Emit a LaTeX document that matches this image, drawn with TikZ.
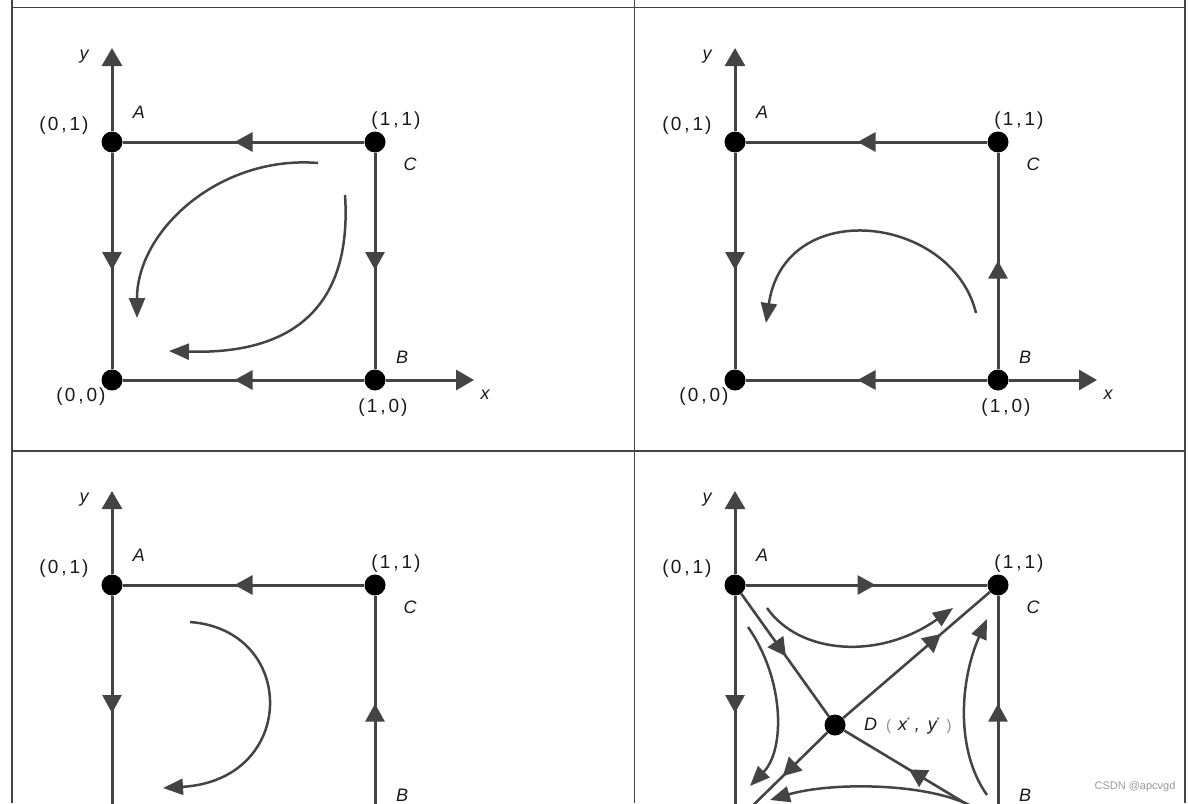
\documentclass[tikz,border=0pt]{standalone}
\usepackage{fontspec}
\setmainfont{Liberation Sans}
\usetikzlibrary{arrows.meta,decorations.markings}
\definecolor{lc}{RGB}{68,68,68}
\definecolor{tc}{RGB}{25,25,25}
\newcommand\crd[2]{(\kern2pt#1\kern3pt,\kern3pt#2\kern2pt)}
\tikzset{
  frame/.style={draw=lc,line width=1.5pt},
  edge/.style={draw=lc,line width=3pt},
  diag/.style={draw=lc,line width=2.6pt},
  axis/.style={draw=lc,line width=3pt,-{Triangle[length=18pt,width=20pt]}},
  flow/.style={draw=lc,line width=2.5pt,-{Triangle[length=20pt,width=16pt]}},
  midarr/.style={postaction={decorate},decoration={markings,
     mark=at position #1 with {\arrow[xshift=9pt]{Triangle[length=18pt,width=19pt]}}}},
  dot/.style={circle,fill=black,inner sep=0pt,minimum size=21pt},
  coordlbl/.style={text=tc,font=\fontsize{19}{19}\selectfont,inner sep=0pt},
  letlbl/.style={text=tc,font=\fontsize{18}{18}\selectfont\itshape,inner sep=0pt},
}
% #1 = suffix; draws the corner dots and the labels of one panel
\newcommand\corners[1]{%
  \node[dot] (O#1) at (112,380) {};
  \node[dot] (A#1) at (112,142) {};
  \node[dot] (C#1) at (375,142) {};
  \node[dot] (B#1) at (375,380) {};
  \coordinate (yt#1) at (112,48);
  \coordinate (xt#1) at (474,380);
  \node[letlbl] (ly#1) at (84,57) {y};
  \node[letlbl] (lA#1) at (139,112) {A};
  \node[coordlbl] (l01#1) at (64,126) {\crd{0}{1}};
  \node[coordlbl] (l11#1) at (396,121) {\crd{1}{1}};
  \node[letlbl] (lC#1) at (410,164) {C};
}
\newcommand\bottomlabels[1]{%
  \node[letlbl] (lB#1) at (402,357) {B};
  \node[coordlbl] (l00#1) at (81,397) {\crd{0}{0}};
  \node[coordlbl] (l10#1) at (383,408) {\crd{1}{0}};
  \node[letlbl] (lx#1) at (485,395) {x};
}
\begin{document}
\begin{tikzpicture}[x=1pt,y=-1pt]
\useasboundingbox (0,0) rectangle (1188,803);
\clip (0,0) rectangle (1188,803);
% frame
\draw[frame] (12,7.5) -- (1185,7.5);
\draw[frame] (12,451) -- (1185,451);
\draw[frame] (12,0) -- (12,803);
\draw[frame] (634.5,0) -- (634.5,803);
\draw[frame] (1185,0) -- (1185,803);

% ---------- panel 1 ----------
\begin{scope}
  \corners{1}\bottomlabels{1}
  \draw[axis] (A1) -- (yt1);
  \draw[axis] (B1) -- (xt1);
  \draw[edge,midarr=0.5] (C1) -- (A1);
  \draw[edge,midarr=0.5] (A1) -- (O1);
  \draw[edge,midarr=0.5] (C1) -- (B1);
  \draw[edge,midarr=0.5] (B1) -- (O1);
  \coordinate (p1s) at (318,163);
  \coordinate (p1e) at (137,318);
  \coordinate (p2s) at (345,195);
  \coordinate (p2e) at (169,351);
  \draw[flow] (p1s) .. controls (220,155) and (137,230) .. (p1e);
  \draw[flow] (p2s) .. controls (352,300) and (300,355) .. (p2e);
\end{scope}

% ---------- panel 2 ----------
\begin{scope}[shift={(623,0)}]
  \corners{2}\bottomlabels{2}
  \draw[axis] (A2) -- (yt2);
  \draw[axis] (B2) -- (xt2);
  \draw[edge,midarr=0.5] (C2) -- (A2);
  \draw[edge,midarr=0.5] (A2) -- (O2);
  \draw[edge,midarr=0.46] (B2) -- (C2);
  \draw[edge,midarr=0.5] (B2) -- (O2);
  \coordinate (q1s) at (353,313);
  \coordinate (q1e) at (143,323);
  \draw[flow] (q1s) .. controls (329,215) and (162,195) .. (q1e);
\end{scope}

% ---------- panel 3 ----------
\begin{scope}[shift={(0,443)}]
  \corners{3}
  \node[letlbl] (lB3) at (402,352) {B};
  \draw[axis] (A3) -- (yt3);
  \draw[edge,midarr=0.5] (C3) -- (A3);
  \draw[edge,midarr=0.5] (A3) -- (O3);
  \draw[edge,midarr=0.46] (B3) -- (C3);
  \coordinate (r1s) at (190,179);
  \coordinate (r1e) at (163,345);
  \draw[flow] (r1s) .. controls (298,187) and (298,337) .. (r1e);
\end{scope}

% ---------- panel 4 ----------
\begin{scope}[shift={(623,443)}]
  \corners{4}
  \node[letlbl] (lB4) at (402,352) {B};
  \node[dot] (D4) at (212,282) {};
  \node[letlbl,anchor=west] (lD4) at (241,283) {D\kern9pt{\color{black!45}\fontsize{15}{15}\selectfont\upshape(}\kern7pt x\raisebox{8pt}{\fontsize{7}{7}\selectfont\upshape *}\kern5pt,\kern8pt y\raisebox{8pt}{\fontsize{7}{7}\selectfont\upshape *}\kern7pt{\color{black!45}\fontsize{15}{15}\selectfont\upshape)}};
  \draw[axis] (A4) -- (yt4);
  \draw[edge,midarr=0.5] (A4) -- (C4);
  \draw[edge,midarr=0.5] (A4) -- (O4);
  \draw[edge,midarr=0.46] (B4) -- (C4);
  \draw[diag,midarr=0.45] (A4) -- (D4);
  \draw[diag,midarr=0.5] (B4) -- (D4);
  \draw[diag,midarr=0.62] (D4) -- (C4);
  \draw[diag,midarr=0.45] (D4) -- (O4);
  \coordinate (s1s) at (144,165);
  \coordinate (s1e) at (330,165);
  \draw[flow] (s1s) .. controls (177,212) and (257,217) .. (s1e);
  \coordinate (s2s) at (125,184);
  \coordinate (s2e) at (127,343);
  \draw[flow] (s2s) .. controls (162,237) and (162,307) .. (s2e);
  \coordinate (s3s) at (364,352);
  \coordinate (s3e) at (364,176);
  \draw[flow] (s3s) .. controls (332,307) and (337,237) .. (s3e);
  \coordinate (s4s) at (352,365);
  \coordinate (s4e) at (147,357);
  \draw[flow] (s4s) .. controls (307,339) and (207,339) .. (s4e);
\end{scope}

\node[text=black!40,font=\fontsize{11}{11}\selectfont,inner sep=0pt] (wm) at (1135,787) {CSDN @apcvgd};
\end{tikzpicture}
\end{document}
